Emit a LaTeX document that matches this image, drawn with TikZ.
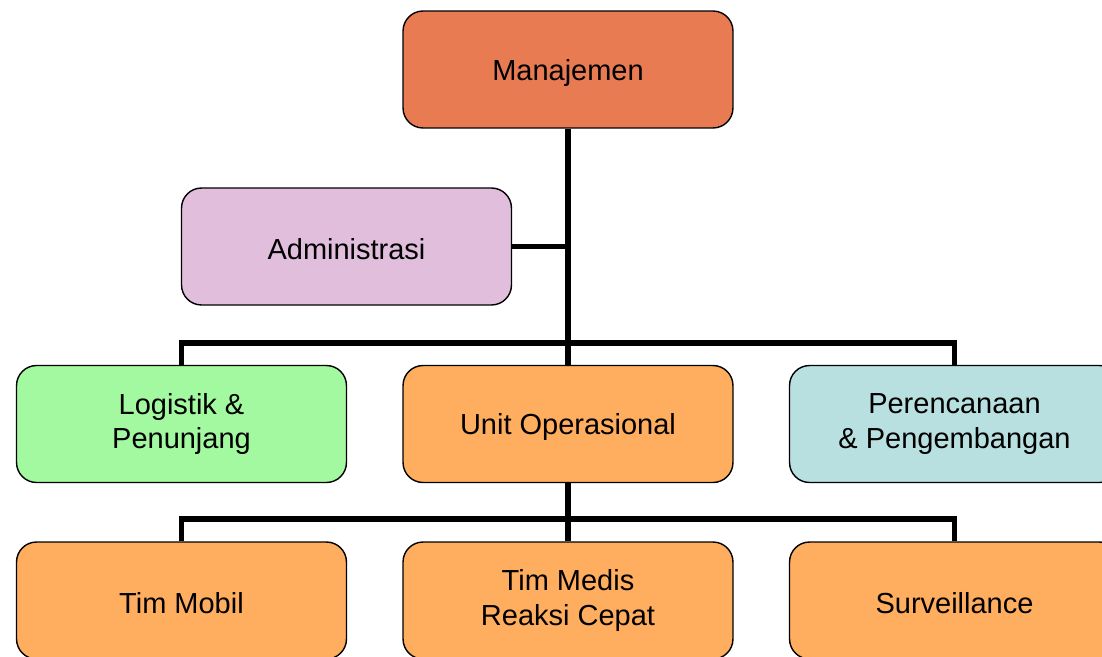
\documentclass[tikz,border=0pt]{standalone}
\usepackage{fontspec}
\setmainfont{Liberation Sans}
\definecolor{mgrcol}{HTML}{E87B51}
\definecolor{admcol}{HTML}{E0BEDC}
\definecolor{logcol}{HTML}{A3F9A0}
\definecolor{opscol}{HTML}{FFAD5E}
\definecolor{plncol}{HTML}{B9E0E1}
\tikzset{
  unit/.style={draw, line width=0.8pt, rounded corners=0.4cm, minimum width=6.6cm,
    minimum height=2.34cm, align=center, font=\fontsize{16.5}{19.5}\selectfont,
    execute at begin node={\rule{0pt}{15.5pt}}},
  link/.style={line width=3.4pt}
}
\begin{document}
\begin{tikzpicture}[x=0.02cm, y=-0.02cm]
    \useasboundingbox (0,0) rectangle (1102,656);
    \clip (0,0) rectangle (1102,656);

    \node[unit, fill=mgrcol] (mgr) at (568, 69.5) {Manajemen};
    \node[unit, fill=admcol] (adm) at (346.5, 246.5) {Administrasi};
    \node[unit, fill=logcol] (log) at (181.5, 424) {Logistik \&\\Penunjang};
    \node[unit, fill=opscol] (ops) at (568, 424) {Unit Operasional};
    \node[unit, fill=plncol] (pln) at (954.5, 424) {Perencanaan\\\& Pengembangan};
    \node[unit, fill=opscol] (mob) at (181.5, 600.5) {Tim Mobil};
    \node[unit, fill=opscol] (med) at (568, 600.5) {Tim Medis\\Reaksi Cepat};
    \node[unit, fill=opscol] (srv) at (954.5, 600.5) {Surveillance};

    \coordinate (bus1) at (568, 343); \coordinate (bus2) at (568, 519);

    \draw[link] (mgr) -- (ops); \draw[link] (adm.east) -- (adm.east -| mgr);
    \draw[link] (log.north) |- (bus1) -| (pln.north);
    \draw[link] (ops) -- (med); \draw[link] (mob.north) |- (bus2) -| (srv.north);
\end{tikzpicture}
\end{document}
